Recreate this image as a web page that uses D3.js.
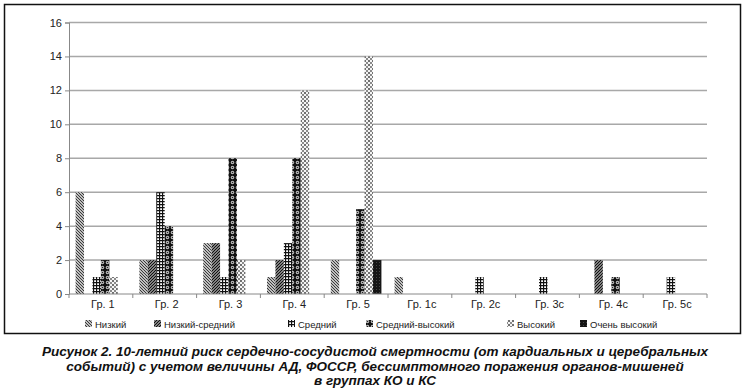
<!DOCTYPE html>
<html>
<head>
<meta charset="utf-8">
<script src="https://cdn.jsdelivr.net/npm/d3@7"></script>
<style>
  html, body { margin: 0; padding: 0; background: #fff; }
  svg { display: block; }
  .caption { font-family: "Liberation Sans Narrow", "Liberation Sans", Arial, sans-serif; font-weight: bold; font-style: italic; font-size: 13.5px; fill: #111; }
</style>
</head>
<body>
<svg id="chart" width="750" height="392"></svg>
<script>
// categories
var groups = ["Гр. 1", "Гр. 2", "Гр. 3", "Гр. 4", "Гр. 5", "Гр. 1с", "Гр. 2с", "Гр. 3с", "Гр. 4с", "Гр. 5с"];
var series = ["Низкий", "Низкий-средний", "Средний", "Средний-высокий", "Высокий", "Очень высокий"];

// values per series, one per group
var low       = [6, 2, 3, 1, 2, 1, 0, 0, 0, 0];
var lowMid    = [0, 2, 3, 2, 0, 0, 0, 0, 2, 0];
var mid       = [1, 6, 1, 3, 0, 0, 1, 1, 0, 1];
var midHigh   = [2, 4, 8, 8, 5, 0, 0, 0, 1, 0];
var high      = [1, 0, 2, 12, 14, 0, 0, 0, 0, 0];
var veryHigh  = [0, 0, 0, 0, 2, 0, 0, 0, 0, 0];
var yTicks = [0, 2, 4, 6, 8, 10, 12, 14, 16];

var caption = [
  "Рисунок 2. 10-летний риск сердечно-сосудистой смертности (от кардиальных и церебральных",
  "событий) с учетом величины АД, ФОССР, бессимптомного поражения органов-мишеней",
  "в группах КО и КС"
];

var values = [low, lowMid, mid, midHigh, high, veryHigh];

var svg = d3.select("#chart");
var margin = {left: 69, right: 43, top: 22.5, bottom: 98};
var W = 750, H = 392;

// fill patterns (b/w print style)
var defs = svg.append("defs");
function pat(id, w, h, bg) {
  var p = defs.append("pattern").attr("id", id)
      .attr("patternUnits", "userSpaceOnUse")
      .attr("width", w).attr("height", h);
  p.append("rect").attr("width", w).attr("height", h).attr("fill", bg);
  return p;
}
var p0 = pat("p0", 3, 3, "#fff");
p0.append("path").attr("d", "M0,0L3,3M-1,2L1,4M2,-1L4,1").attr("stroke", "#333").attr("stroke-width", 1.2);
var p1 = pat("p1", 3, 3, "#fff");
p1.append("path").attr("d", "M0,3L3,0M-1,1L1,-1M2,4L4,2").attr("stroke", "#111").attr("stroke-width", 1.5);
var p2 = pat("p2", 3, 3, "#fff");
p2.append("path").attr("d", "M0,0.5H3M0.5,0V3").attr("stroke", "#111").attr("stroke-width", 1.3);
var p3 = pat("p3", 5, 5, "#111");
p3.append("circle").attr("cx", 2.5).attr("cy", 2.5).attr("r", 1.7).attr("fill", "#ccc");
p3.append("circle").attr("cx", 2.5).attr("cy", 2.5).attr("r", 0.8).attr("fill", "#222");
var p4 = pat("p4", 4, 4, "#f4f4f4");
p4.append("circle").attr("cx", 1).attr("cy", 1).attr("r", 1).attr("fill", "#444");
p4.append("circle").attr("cx", 3).attr("cy", 3).attr("r", 1).attr("fill", "#666");
var p5 = pat("p5", 3, 3, "#151515");
p5.append("rect").attr("x", 1).attr("y", 1).attr("width", 1).attr("height", 1).attr("fill", "#444");
var fills = ["url(#p0)", "url(#p1)", "url(#p2)", "url(#p3)", "url(#p4)", "url(#p5)"];

// frame
svg.append("rect").attr("x", 4.5).attr("y", 4.5).attr("width", 736).attr("height", 329)
    .attr("fill", "none").attr("stroke", "#111").attr("stroke-width", 1.5);

var x0 = d3.scaleBand().domain(groups).range([margin.left, W - margin.right]).padding(0);
var x1 = d3.scaleBand().domain(series).range([0, x0.bandwidth()]).paddingInner(0).paddingOuter(0.78);
var y = d3.scaleLinear().domain([0, 16]).range([H - margin.bottom, margin.top]);

// grid
svg.append("g").selectAll("line").data(yTicks.filter(function(d){ return d > 0; })).enter()
  .append("line")
  .attr("x1", margin.left).attr("x2", W - margin.right)
  .attr("y1", function(d){ return y(d); }).attr("y2", function(d){ return y(d); })
  .attr("stroke", "#a8a8a8").attr("stroke-width", 1.5);

// y axis
var gY = svg.append("g").attr("transform", "translate(" + margin.left + ",0)")
  .call(d3.axisLeft(y).tickValues(yTicks).tickSize(4).tickPadding(3));
gY.select(".domain").attr("stroke", "#888");
gY.selectAll(".tick line").attr("stroke", "#888");
gY.selectAll("text").attr("font-family", "Liberation Sans, Arial, sans-serif").attr("font-size", 11).attr("fill", "#222");

// bars
var bars = svg.append("g");
series.forEach(function(s, si) {
  var pts = values[si].map(function(v, i){ return {v: v, g: groups[i]}; })
      .filter(function(d){ return d.v > 0; });
  bars.append("g").selectAll("rect").data(pts).enter()
    .append("rect")
    .attr("x", function(d){ return x0(d.g) + x1(s); })
    .attr("y", function(d){ return y(d.v); })
    .attr("width", x1.bandwidth())
    .attr("height", function(d){ return y(0) - y(d.v); })
    .attr("fill", fills[si]);
});

// x axis
var xBounds = groups.map(function(g){ return x0(g); }).concat([W - margin.right]);
var gX = svg.append("g");
gX.append("line").attr("x1", margin.left).attr("x2", W - margin.right)
  .attr("y1", y(0)).attr("y2", y(0)).attr("stroke", "#888").attr("stroke-width", 1);
gX.selectAll(".xt").data(xBounds).enter().append("line")
  .attr("x1", function(d){ return d; }).attr("x2", function(d){ return d; })
  .attr("y1", y(0)).attr("y2", y(0) + 4).attr("stroke", "#888");
gX.selectAll("text").data(groups).enter().append("text")
  .attr("x", function(d){ return x0(d) + x0.bandwidth() / 2 + 2; })
  .attr("y", y(0) + 14)
  .attr("text-anchor", "middle")
  .attr("font-family", "Liberation Sans, Arial, sans-serif").attr("font-size", 11).attr("fill", "#222")
  .text(function(d){ return d; });

// legend
var legX = [85, 154, 288, 366, 507, 580];
var leg = svg.append("g").attr("transform", "translate(0," + 324 + ")");
series.forEach(function(s, i) {
  leg.append("rect").attr("x", legX[i]).attr("y", -4).attr("width", 7).attr("height", 7).attr("fill", fills[i]);
  leg.append("text").attr("x", legX[i] + 10).attr("y", 3.5)
    .attr("font-family", "Liberation Sans, Arial, sans-serif").attr("font-size", 9.5).attr("fill", "#222")
    .text(s);
});

// caption
svg.append("g").selectAll("text").data(caption).enter().append("text")
  .attr("class", "caption")
  .attr("x", 375).attr("y", function(d, i){ return 356 + i * 14.5; })
  .attr("text-anchor", "middle")
  .text(function(d){ return d; });
</script>
</body>
</html>
